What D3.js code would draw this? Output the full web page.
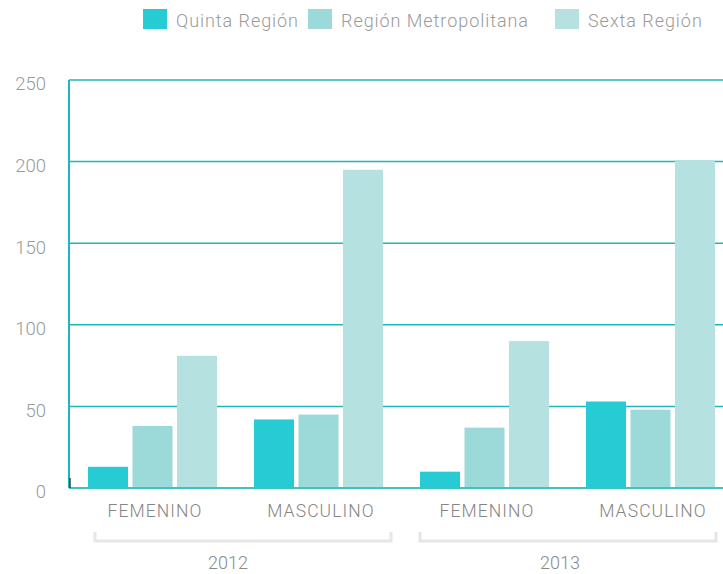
<!DOCTYPE html>
<html>
<head>
<meta charset="utf-8">
<script src="https://cdn.jsdelivr.net/npm/d3@7"></script>
<style>
  html, body { margin: 0; padding: 0; background: #fff; overflow: hidden; }
  svg { display: block; font-family: Roboto, "Noto Sans", sans-serif; }
</style>
</head>
<body>
<svg id="chart" width="723" height="574"></svg>
<script>
// ---- data ----
const years = ["2012", "2013"];
const genders = ["FEMENINO", "MASCULINO"];
const series = ["Quinta Región", "Región Metropolitana", "Sexta Región"];
const quinta = [13, 42, 10, 53];
const metropolitana = [38, 45, 37, 48];
const sexta = [81, 195, 90, 201];
const yTicks = [0, 50, 100, 150, 200, 250];

const colors = ["#27cbd3", "#9cdad9", "#b5e1e1"];
const values = [quinta, metropolitana, sexta];

const categories = [];
years.forEach(yv => genders.forEach(g => categories.push(yv + "|" + g)));

const svg = d3.select("#chart");
const pLeft = 69, pTop = 80, pBottom = 488, pRight = 733;

const x0 = d3.scaleBand().domain(categories).range([pLeft, pRight]).padding(0);
const x1 = d3.scaleBand().domain(series).range([19, 148]).paddingInner(0.1).paddingOuter(0);
const y = d3.scaleLinear().domain([0, 250]).range([pBottom, pTop]);

// gridlines
svg.append("g").selectAll("line").data(yTicks.filter(t => t > 0)).join("line")
  .attr("x1", pLeft).attr("x2", 723)
  .attr("y1", d => y(d)).attr("y2", d => y(d))
  .attr("stroke", "#1fb7b7").attr("stroke-width", 1.5);

// y axis labels
const yAxis = d3.axisLeft(y).tickValues(yTicks).tickSize(0).tickPadding(0);
const gy = svg.append("g").attr("transform", `translate(46,4)`).call(yAxis);
gy.select(".domain").remove();
gy.selectAll("text").attr("fill", "#9a9a9a").attr("font-size", 18.5).attr("font-weight", 300)
  .attr("font-family", "Roboto, sans-serif");

// bars
const rows = [];
categories.forEach((c, i) => series.forEach((s, j) => rows.push({c, s, v: values[j][i], col: colors[j]})));
svg.append("g").selectAll("rect").data(rows).join("rect")
  .attr("x", d => x0(d.c) + x1(d.s))
  .attr("width", x1.bandwidth())
  .attr("y", d => y(d.v))
  .attr("height", d => y(0) - y(d.v))
  .attr("fill", d => d.col);

// left axis line
svg.append("line").attr("x1", pLeft).attr("x2", pLeft).attr("y1", pTop).attr("y2", pBottom)
  .attr("stroke", "#1fb7b7").attr("stroke-width", 2);
// bottom axis line
svg.append("line").attr("x1", pLeft).attr("x2", 723).attr("y1", pBottom).attr("y2", pBottom)
  .attr("stroke", "#3fc2c2").attr("stroke-width", 2);
svg.append("line").attr("x1", pLeft + 1).attr("x2", pLeft + 1).attr("y1", pBottom - 10).attr("y2", pBottom)
  .attr("stroke", "#1d4d4d").attr("stroke-width", 1.5);

// category labels
svg.append("g").selectAll("text").data(categories).join("text")
  .attr("x", d => x0(d) + x0.bandwidth() / 2 + 3)
  .attr("y", 517)
  .attr("text-anchor", "middle")
  .attr("font-size", 17.5).attr("font-weight", 300).attr("letter-spacing", 1.1)
  .attr("fill", "#858585")
  .text(d => d.split("|")[1]);

// year brackets
const yearStart = yr => x0(yr + "|" + genders[0]);
const yearEnd = yr => x0(yr + "|" + genders[genders.length - 1]) + x0.bandwidth();
const bracketOff = [[26, 10], [19, 17]];
years.forEach((yr, i) => {
  const a = yearStart(yr) + bracketOff[i][0], b = yearEnd(yr) - bracketOff[i][1];
  svg.append("path")
    .attr("d", `M${a},532 V541 H${b} V532`)
    .attr("fill", "none").attr("stroke", "#e6e6e6").attr("stroke-width", 3);
  svg.append("text")
    .attr("x", (yearStart(yr) + yearEnd(yr)) / 2 - 7)
    .attr("y", 569)
    .attr("text-anchor", "middle")
    .attr("font-size", 18).attr("font-weight", 300)
    .attr("fill", "#8a8a8a")
    .text(yr);
});

// legend
const legendX = [143, 308, 555];
const lg = svg.append("g");
series.forEach((s, i) => {
  lg.append("rect").attr("x", legendX[i]).attr("y", 9).attr("width", 24).attr("height", 20).attr("fill", colors[i]);
  lg.append("text").attr("x", legendX[i] + 33).attr("y", 27)
    .attr("font-size", 18).attr("font-weight", 300).attr("letter-spacing", 0.95)
    .attr("fill", "#9a9a9a").text(s);
});
</script>
</body>
</html>
